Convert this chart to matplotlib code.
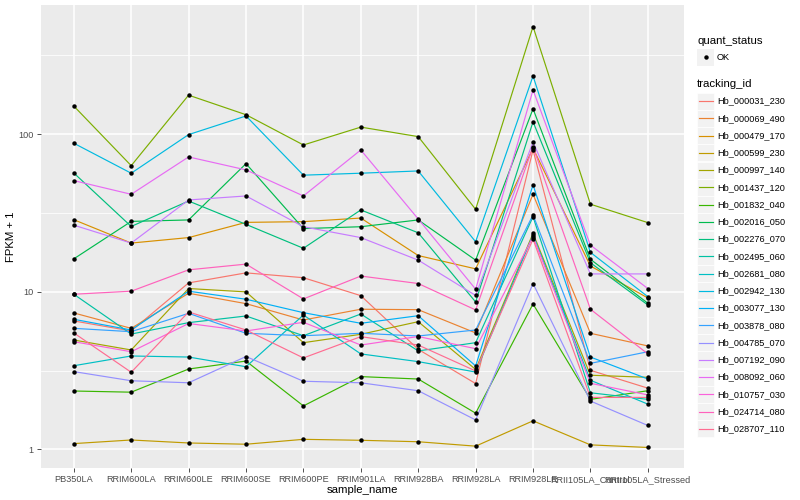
import matplotlib
matplotlib.use("Agg")
import matplotlib.pyplot as plt
from matplotlib.patches import Rectangle
import numpy as np

plt.rcParams['font.family'] = ['Liberation Sans', 'DejaVu Sans']

samples = ["PB350LA", "RRIM600LA", "RRIM600LE", "RRIM600SE", "RRIM600PE",
           "RRIM901LA", "RRIM928BA", "RRIM928LA", "RRIM928LE",
           "RRII105LA_Control", "RRII105LA_Stressed"]

tracking_ids = ["Hb_000031_230", "Hb_000069_490", "Hb_000479_170", "Hb_000599_230",
                "Hb_000997_140", "Hb_001437_120", "Hb_001832_040", "Hb_002016_050",
                "Hb_002276_070", "Hb_002495_060", "Hb_002681_080", "Hb_002942_130",
                "Hb_003077_130", "Hb_003878_080", "Hb_004785_070", "Hb_007192_090",
                "Hb_008092_060", "Hb_010757_030", "Hb_024714_080", "Hb_028707_110"]

colors = ["#F8766D", "#EA8331", "#D89000", "#C09B00", "#A3A500", "#7CAE00",
          "#39B600", "#00BB4E", "#00BF7D", "#00C1A3", "#00BFC4", "#00BAE0",
          "#00B0F6", "#35A2FF", "#9590FF", "#C77CFF", "#E76BF3", "#FA62DB",
          "#FF62BC", "#FF6C91"]

# FPKM + 1 per sample (order of `samples`)
Hb_000031_230 = [6.54, 5.65, 11.4, 13.2, 12.3, 9.46, 4.32, 2.62, 79.5, 3.18, 2.45]
Hb_000069_490 = [7.35, 5.87, 9.80, 8.42, 6.63, 7.76, 7.71, 5.49, 41.6, 5.46, 4.54]
Hb_000479_170 = [28.7, 20.4, 22.1, 27.6, 27.9, 29.4, 17.0, 14.0, 81.5, 14.6, 9.15]
Hb_000599_230 = [1.09, 1.149, 1.10, 1.08, 1.16, 1.144, 1.12, 1.05, 1.52, 1.07, 1.03]
Hb_000997_140 = [4.95, 4.28, 10.5, 10.0, 4.76, 5.38, 6.47, 3.22, 23.5, 2.96, 2.87]
Hb_001437_120 = [151, 63.2, 177, 133, 85.5, 111, 96.6, 33.4, 482, 36.0, 27.5]
Hb_001832_040 = [2.35, 2.31, 3.24, 3.64, 1.89, 2.90, 2.80, 1.70, 8.38, 2.08, 2.36]
Hb_002016_050 = [16.2, 28.0, 28.6, 65.1, 25.2, 25.9, 28.6, 15.9, 145, 16.1, 8.47]
Hb_002276_070 = [56.8, 26.0, 37.7, 26.8, 18.9, 33.1, 23.7, 8.63, 120, 15.3, 8.26]
Hb_002495_060 = [9.66, 5.40, 6.38, 7.03, 5.27, 7.24, 4.22, 4.76, 30.0, 2.29, 2.08]
Hb_002681_080 = [3.40, 3.92, 3.86, 3.35, 7.13, 4.04, 3.61, 3.10, 23.0, 2.75, 1.94]
Hb_002942_130 = [87.7, 56.6, 99.5, 130.6, 55.0, 56.6, 58.5, 20.8, 234, 17.8, 9.32]
Hb_003077_130 = [6.70, 5.73, 10.1, 8.98, 7.38, 6.32, 7.06, 3.39, 47.7, 3.86, 2.80]
Hb_003878_080 = [5.87, 5.59, 7.31, 5.46, 5.27, 5.46, 5.25, 5.73, 30.8, 3.52, 4.17]
Hb_004785_070 = [3.12, 2.73, 2.65, 3.89, 2.71, 2.65, 2.36, 1.54, 11.3, 2.03, 1.42]
Hb_007192_090 = [26.5, 20.4, 38.3, 40.6, 25.9, 22.1, 15.9, 9.49, 89.4, 13.0, 13.0]
Hb_008092_060 = [50.8, 41.6, 71.8, 59.4, 40.6, 79.5, 29.0, 10.4, 191, 19.8, 10.5]
Hb_010757_030 = [4.83, 4.17, 6.30, 5.65, 6.41, 4.60, 5.21, 4.36, 22.4, 2.63, 2.22]
Hb_024714_080 = [9.66, 10.1, 13.8, 15.0, 9.02, 12.6, 11.3, 7.68, 83.4, 7.76, 4.04]
Hb_028707_110 = [5.49, 3.09, 7.46, 5.73, 3.81, 5.20, 4.60, 3.15, 21.6, 2.14, 2.14]

series = [Hb_000031_230, Hb_000069_490, Hb_000479_170, Hb_000599_230, Hb_000997_140,
          Hb_001437_120, Hb_001832_040, Hb_002016_050, Hb_002276_070, Hb_002495_060,
          Hb_002681_080, Hb_002942_130, Hb_003077_130, Hb_003878_080, Hb_004785_070,
          Hb_007192_090, Hb_008092_060, Hb_010757_030, Hb_024714_080, Hb_028707_110]

W, H = 800, 500
fig = plt.figure(figsize=(8, 5), dpi=100)
fig.patch.set_facecolor("white")

L, R, T, B = 40.5, 684, 5, 468
ax = fig.add_axes([L / W, 1 - B / H, (R - L) / W, (B - T) / H])
ax.set_facecolor("#EBEBEB")
for s in ax.spines.values():
    s.set_visible(False)

x = np.arange(len(samples))
ax.set_yscale("log")
ax.set_xlim(-0.58, len(samples) - 1 + 0.63)
ax.set_ylim(10 ** -0.1174, 10 ** 2.82)

# grid
for v in [10 ** 0.5, 10 ** 1.5, 10 ** 2.5]:
    ax.axhline(v, color="white", lw=0.55, zorder=0.5)
for v in [1, 10, 100]:
    ax.axhline(v, color="white", lw=1.1, zorder=0.6)
for xi in x:
    ax.axvline(xi, color="white", lw=1.1, zorder=0.6)

for vals, c in zip(series, colors):
    ax.plot(x, vals, color=c, lw=0.85, zorder=2, solid_capstyle="butt")
for vals in series:
    ax.plot(x, vals, linestyle="none", marker="o", ms=3.2, color="black",
            markeredgewidth=0, zorder=3)

ax.set_yticks([1, 10, 100])
ax.set_yticklabels(["1", "10", "100"])
ax.yaxis.set_minor_locator(matplotlib.ticker.NullLocator())
ax.set_xticks(x)
ax.set_xticklabels(samples)
ax.tick_params(axis="both", which="major", length=2.75, width=0.6, color="#333333",
               labelsize=6.6, labelcolor="#4D4D4D", pad=2.2)
ax.set_xlabel("sample_name", fontsize=8.2, color="black", labelpad=1.0)
ax.set_ylabel("FPKM + 1", fontsize=8.2, color="black", labelpad=1.5)

# legend drawn in figure pixel coordinates
lax = fig.add_axes([0, 0, 1, 1], zorder=10)
lax.set_xlim(0, W)
lax.set_ylim(H, 0)
lax.axis("off")
lax.patch.set_alpha(0)

kx, kw, kh = 697, 17, 17
lax.text(kx, 41, "quant_status", fontsize=8.2, va="center", ha="left", color="black")
lax.add_patch(Rectangle((kx, 57.3 - kh / 2), kw, kh, facecolor="#F2F2F2", edgecolor="none"))
lax.plot([kx + kw / 2], [57.3], marker="o", ms=3.2, color="black", markeredgewidth=0)
lax.text(kx + kw + 3, 57.3, "OK", fontsize=6.6, va="center", ha="left", color="black")

lax.text(kx, 84.3, "tracking_id", fontsize=8.2, va="center", ha="left", color="black")
y0, dy = 101, 17.25
for i, (name, c) in enumerate(zip(tracking_ids, colors)):
    yc = y0 + i * dy
    lax.add_patch(Rectangle((kx, yc - kh / 2), kw, kh, facecolor="#F2F2F2",
                            edgecolor="white", lw=0.5))
    lax.plot([kx + 1.5, kx + kw - 1.5], [yc, yc], color=c, lw=0.85)
    lax.text(kx + kw + 3, yc, name, fontsize=6.6, va="center", ha="left", color="black")

fig.savefig("out.png", dpi=100)
